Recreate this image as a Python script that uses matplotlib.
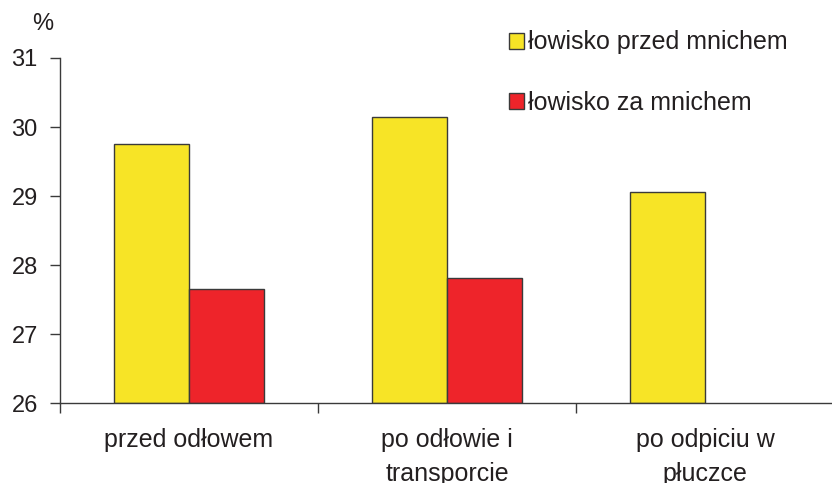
import matplotlib
matplotlib.use("Agg")
import matplotlib.pyplot as plt
import numpy as np
from matplotlib.patches import Patch

categories = ["przed odłowem", "po odłowie i\ntransporcie", "po odpiciu w\npłuczce"]
series_names = ["łowisko przed mnichem", "łowisko za mnichem"]
przed_mnichem = [29.76, 30.14, 29.06]
za_mnichem = [27.65, 27.82, np.nan]
y_ticks = [26, 27, 28, 29, 30, 31]

yellow = "#F7E426"
red = "#EE242A"
edge = "#3a3a3a"
text_color = "#231F20"

plt.rcParams["font.family"] = ["Liberation Sans", "DejaVu Sans"]
FS_NUM = 17
FS_TXT = 18

W, H = 832, 483
fig = plt.figure(figsize=(W / 100, H / 100), dpi=100)
ax = fig.add_axes([60 / W, (H - 403.3) / H, 774 / W, (403.3 - 58) / H])

x = np.arange(len(categories))
bw = 0.29
ax.bar(x - bw / 2, np.array(przed_mnichem) - 26, bw, bottom=26, color=yellow,
       edgecolor=edge, linewidth=1.0)
ax.bar(x + bw / 2, np.array(za_mnichem) - 26, bw, bottom=26, color=red,
       edgecolor=edge, linewidth=1.0)

ax.set_xlim(-0.5, 2.5)
ax.set_ylim(26, 31)
ax.set_yticks(y_ticks)
ax.set_yticklabels([str(v) for v in y_ticks], fontsize=FS_NUM, color=text_color)
ax.set_xticks([-0.5, 0.5, 1.5, 2.5])
ax.set_xticklabels([])
ax.set_xticks(x, minor=True)
ax.set_xticklabels(categories, minor=True, fontsize=FS_TXT, color=text_color,
                   linespacing=1.5)
ax.tick_params(axis="x", which="minor", length=0, pad=18)
ax.tick_params(axis="x", which="major", length=7, width=1.0, color=edge, direction="out")
ax.tick_params(axis="y", length=7, width=1.0, color=edge, direction="out", pad=9)

for s in ["top", "right"]:
    ax.spines[s].set_visible(False)
for s in ["left", "bottom"]:
    ax.spines[s].set_color(edge)
    ax.spines[s].set_linewidth(1.0)

fig.text(43 / W, 1 - 24 / H, "%", fontsize=FS_NUM, color=text_color,
         ha="center", va="center")

handles = [Patch(facecolor=yellow, edgecolor=edge, linewidth=1.0),
           Patch(facecolor=red, edgecolor=edge, linewidth=1.0)]
fig.legend(handles, series_names, loc="upper left",
           bbox_to_anchor=(486 / W, 1 - 8 / H), frameon=False,
           fontsize=FS_TXT, handlelength=0.6, handleheight=0.6,
           handletextpad=0.2, labelspacing=1.44, labelcolor=text_color)

fig.savefig("out.png", dpi=100)
